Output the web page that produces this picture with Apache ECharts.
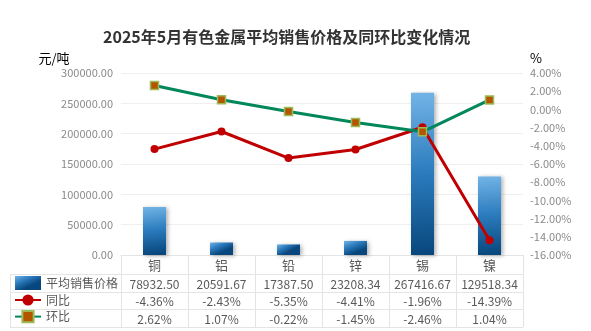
<!DOCTYPE html>
<html>
<head>
<meta charset="utf-8">
<script src="https://cdn.jsdelivr.net/npm/echarts@6/dist/echarts.min.js"></script>
<style>html,body{margin:0;padding:0;background:#fff}#main{width:591px;height:331px}</style>
</head>
<body>
<div id="main"></div>
<script>
var metals = ['铜', '铝', '铅', '锌', '锡', '镍'];
var avgPrice = [78932.50, 20591.67, 17387.50, 23208.34, 267416.67, 129518.34];
var yoy = [-4.36, -2.43, -5.35, -4.41, -1.96, -14.39];
var mom = [2.62, 1.07, -0.22, -1.45, -2.46, 1.04];
var seriesNames = ['平均销售价格', '同比', '环比'];

var font = 'Noto Sans CJK SC';
var gLeft = 121, gRight = 523, gTop = 73, gBottom = 255;
var cellW = (gRight - gLeft) / metals.length;
var rowLines = [274, 292, 309, 327];
var lineColor = '#e4e4e4';

// data table drawn under the axis
var table = [];
function hline(x1, x2, y) {
    table.push({type: 'line', shape: {x1: x1, y1: y + 0.5, x2: x2, y2: y + 0.5}, style: {stroke: lineColor, lineWidth: 1}, silent: true});
}
function vline(x, y1, y2) {
    table.push({type: 'line', shape: {x1: x + 0.5, y1: y1, x2: x + 0.5, y2: y2}, style: {stroke: lineColor, lineWidth: 1}, silent: true});
}
for (var r = 0; r < rowLines.length; r++) hline(10, gRight, rowLines[r]);
vline(10, rowLines[0], rowLines[3]);
for (var c = 0; c <= metals.length; c++) vline(Math.round(gLeft + c * cellW), gBottom, rowLines[3]);

var rows = [
    avgPrice.map(function (v) { return v.toFixed(2); }),
    yoy.map(function (v) { return v.toFixed(2) + '%'; }),
    mom.map(function (v) { return v.toFixed(2) + '%'; })
];
for (var r = 0; r < rows.length; r++) {
    for (var c = 0; c < metals.length; c++) {
        table.push({
            type: 'text', silent: true,
            x: gLeft + (c + 0.5) * cellW,
            y: (rowLines[r] + rowLines[r + 1]) / 2 + 1,
            style: {text: rows[r][c], fill: '#595959', font: '12px "' + font + '"', align: 'center', verticalAlign: 'middle'}
        });
    }
}

var myChart = echarts.init(document.getElementById('main'));
var option = {
    backgroundColor: '#fff',
    animation: false,
    textStyle: {fontFamily: font},
    title: {
        text: '2025年5月有色金属平均销售价格及同环比变化情况',
        left: 98,
        top: 24,
        textStyle: {fontSize: 16, fontWeight: 'bold', color: '#333', fontFamily: font}
    },
    legend: {
        orient: 'vertical',
        left: 14,
        top: 276,
        padding: 0,
        itemWidth: 26,
        itemHeight: 14,
        itemGap: 4,
        textStyle: {fontSize: 12, color: '#595959'},
        data: [{name: seriesNames[0], icon: 'rect'}, seriesNames[1], seriesNames[2]]
    },
    grid: {left: gLeft, right: 591 - gRight, top: gTop, bottom: 331 - gBottom},
    xAxis: {
        type: 'category',
        data: metals,
        axisLine: {lineStyle: {color: lineColor}},
        axisTick: {show: false},
        axisLabel: {color: '#595959', fontSize: 13, margin: 4}
    },
    yAxis: [
        {
            type: 'value',
            name: '元/吨',
            nameGap: 8,
            nameTextStyle: {color: '#000', fontSize: 13, align: 'center', padding: [0, 134, 0, 0]},
            min: 0, max: 300000, interval: 50000,
            axisLabel: {color: '#8a8a8a', fontSize: 11, margin: 8, formatter: function (v) { return v.toFixed(2); }},
            splitLine: {lineStyle: {color: '#efefef'}}
        },
        {
            type: 'value',
            name: '%',
            nameGap: 8,
            nameTextStyle: {color: '#000', fontSize: 13, align: 'left', padding: [0, 0, 0, 7]},
            min: -16, max: 4, interval: 2,
            axisLabel: {color: '#8a8a8a', fontSize: 11, margin: 7, formatter: function (v) { return v.toFixed(2) + '%'; }},
            splitLine: {show: false}
        }
    ],
    series: [
        {
            name: seriesNames[0],
            type: 'bar',
            barWidth: 23,
            data: avgPrice,
            itemStyle: {
                color: new echarts.graphic.LinearGradient(0, 0, 0.25, 1, [
                    {offset: 0, color: '#72b4e6'},
                    {offset: 0.5, color: '#2b7bbd'},
                    {offset: 1, color: '#08477d'}
                ]),
                shadowBlur: 4,
                shadowColor: 'rgba(0,0,0,0.3)',
                shadowOffsetX: 2,
                shadowOffsetY: 1
            }
        },
        {
            name: seriesNames[1],
            type: 'line',
            yAxisIndex: 1,
            data: yoy,
            symbol: 'circle',
            symbolSize: 8,
            lineStyle: {color: '#c00000', width: 3},
            itemStyle: {color: '#c00000'}
        },
        {
            name: seriesNames[2],
            type: 'line',
            yAxisIndex: 1,
            data: mom,
            symbol: 'rect',
            symbolSize: 8,
            lineStyle: {color: '#00875a', width: 3},
            itemStyle: {color: '#b45500', borderColor: '#9bbb59', borderWidth: 1.5}
        }
    ],
    graphic: table
};
myChart.setOption(option);
</script>
</body>
</html>
